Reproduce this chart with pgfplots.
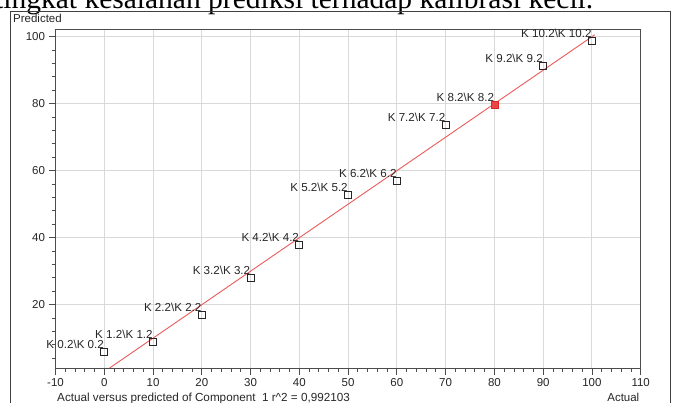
\documentclass[border=0pt]{standalone}
\usepackage{fontspec}
\setmainfont{Liberation Serif}
\newfontfamily\arial{Liberation Sans}
\usepackage{pgfplots}
\pgfplotsset{compat=1.18}
\newcommand\bs{\textbackslash}
\begin{document}
\begin{tikzpicture}
\useasboundingbox (0pt,0pt) rectangle (675pt,403pt);
\node[anchor=base west, inner sep=0pt, font=\fontsize{29.5}{30}\selectfont] at (-5pt,394.7pt) {tingkat kesalahan prediksi terhadap kalibrasi kecil.};
\draw[line width=1pt, black!75] (10.5pt,-5pt) -- (10.5pt,391pt) -- (670pt,391pt) -- (670pt,-5pt);
\node[anchor=base west, inner sep=0pt, font=\arial\fontsize{11.5}{12}\selectfont, text=black!85] at (13pt,380pt) {Predicted};
\node[anchor=base west, inner sep=0pt, font=\arial\fontsize{11.7}{12}\selectfont, text=black!85] at (57pt,1.8pt) {Actual versus predicted of Component~~1 r\textasciicircum 2 = 0,992103};
\node[anchor=base east, inner sep=0pt, font=\arial\fontsize{11.5}{12}\selectfont, text=black!85] at (639.5pt,1.8pt) {Actual};
\begin{axis}[at={(55.5pt,35pt)}, anchor=south west, scale only axis,
  width=585.2pt, height=339pt,
  xmin=-10, xmax=110, ymin=1.1, ymax=102.3,
  xtick={-10,0,...,110}, ytick={0,20,...,100},
  minor x tick num=4, minor y tick num=4,
  tick align=outside, xtick pos=lower, ytick pos=left,
  grid=major, major grid style={gray!30, line width=0.9pt},
  axis line style={black!70, line width=0.8pt},
  major tick length=7pt, minor tick length=4pt,
  every tick/.style={black!70, line width=0.8pt},
  ticklabel style={font=\arial\fontsize{11.5}{12}\selectfont, text=black!85},
  /pgf/number format/assume math mode=true,
  clip=false]
\addplot[draw={rgb,255:red,235;green,90;blue,90}, line width=0.9pt] coordinates {(1.1,1.1) (100.6,100.6)};
\addplot[only marks, mark=square, mark size=3.5pt,
  mark options={black!85, line width=0.8pt},
  point meta=explicit symbolic, nodes near coords,
  every node near coord/.append style={anchor=base east, yshift=3.5pt, inner sep=0pt,
    font=\arial\fontsize{11.6}{12}\selectfont, text=black!85}]
coordinates {
(0,5.8) [K 0.2\bs K 0.2]
(10,9.0) [K 1.2\bs K 1.2]
(20,17.0) [K 2.2\bs K 2.2]
(30,28.1) [K 3.2\bs K 3.2]
(40,37.8) [K 4.2\bs K 4.2]
(50,52.8) [K 5.2\bs K 5.2]
(60,57.0) [K 6.2\bs K 6.2]
(70,73.7) [K 7.2\bs K 7.2]
(80,79.7) [K 8.2\bs K 8.2]
(90,91.3) [K 9.2\bs K 9.2]
(100,98.6) [K 10.2\bs K 10.2]
};
\addplot[only marks, mark=square*, mark size=3.5pt,
  mark options={draw={rgb,255:red,220;green,40;blue,40}, fill={rgb,255:red,235;green,70;blue,70}, line width=0.8pt}]
coordinates {(80,79.7)};
\end{axis}
\end{tikzpicture}
\end{document}
